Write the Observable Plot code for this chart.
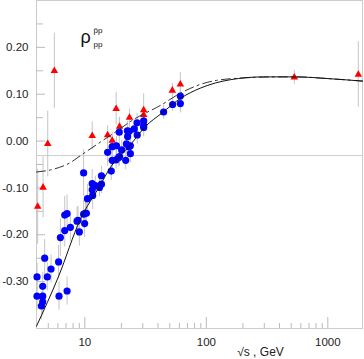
<!DOCTYPE html>
<html>
<head>
<meta charset="utf-8">
<script src="https://cdn.jsdelivr.net/npm/d3@7"></script>
<script src="https://cdn.jsdelivr.net/npm/@observablehq/plot@0.6"></script>
<style>
  html, body { margin: 0; padding: 0; background: #fff; }
  #chart { width: 364px; height: 359px; }
</style>
</head>
<body>
<div id="chart"></div>
<script>
// pp data (blue circles): sqrt(s) GeV, rho, error
const ppX = [4.04, 4.04, 4.39, 4.50, 4.50, 4.50, 4.67, 4.91, 5.27, 6.08, 6.13, 7.14, 6.29, 6.83, 6.83, 7.14, 7.60, 8.63, 8.79, 9.01,
             9.77, 10.1, 10.3, 9.96, 10.5, 11.5, 12.2, 11.5, 11.6, 13.2, 13.7, 13.7, 9.77, 16.5, 15.4, 16.8, 18.2, 16.8, 18.1, 19.0,
             19.3, 19.2, 20.1, 21.7, 22.0, 23.0, 23.7, 22.4, 23.2, 22.5, 25.5, 26.9, 27.0, 23.7, 30.5, 30.5, 30.5, 44.5, 52.8, 61.1, 61.1];
const ppY = [-0.290, -0.331, -0.352, -0.343, -0.331, -0.310, -0.250, -0.290, -0.273, -0.258, -0.331, -0.320, -0.206, -0.191, -0.158, -0.155, -0.184, -0.171, -0.169, -0.194,
             -0.156, -0.154, -0.154, -0.176, -0.123, -0.091, -0.095, -0.104, -0.116, -0.099, -0.092, -0.074, -0.068, -0.064, -0.024, -0.012, -0.010, -0.041, -0.040, -0.035,
             -0.033, 0.019, -0.019, -0.041, -0.006, -0.012, -0.010, 0.022, 0.021, 0.010, 0.026, 0.039, 0.013, -0.027, 0.043, 0.033, 0.029, 0.062, 0.078, 0.096, 0.080];
const ppErr = [0.03, 0.03, 0.03, 0.03, 0.025, 0.03, 0.04, 0.03, 0.03, 0.035, 0.03, 0.03, 0.04, 0.035, 0.04, 0.04, 0.03, 0.03, 0.03, 0.03,
               0.03, 0.03, 0.03, 0.03, 0.03, 0.03, 0.02, 0.02, 0.03, 0.02, 0.02, 0.02, 0.05, 0.02, 0.03, 0.03, 0.02, 0.02, 0.02, 0.02,
               0.02, 0.03, 0.02, 0.02, 0.02, 0.02, 0.02, 0.02, 0.02, 0.02, 0.02, 0.02, 0.02, 0.02, 0.02, 0.02, 0.02, 0.015, 0.015, 0.02, 0.02];

// pbar-p data (red triangles)
const pbarpX = [4.09, 4.53, 4.95, 5.61, 11.5, 15.4, 16.8, 18.1, 19.3, 23.3, 30.5, 30.5, 52.5, 61.1, 530, 1783];
const pbarpY = [-0.140, -0.099, -0.006, 0.150, 0.011, 0.013, 0.001, 0.069, 0.031, 0.050, 0.066, 0.056, 0.108, 0.121, 0.136, 0.142];
const pbarpErr = [0.08, 0.065, 0.07, 0.08, 0.03, 0.02, 0.01, 0.035, 0.02, 0.018, 0.035, 0.012, 0.015, 0.025, 0.015, 0.07];

// fit curves
const fitPpX = [4.0, 6.05, 9.18, 13.4, 15.7, 23.7, 31.5, 43.2, 62, 89.4, 158, 296, 540, 1047, 1930];
const fitPpY = [-0.395, -0.290, -0.167, -0.094, -0.062, -0.008, 0.031, 0.060, 0.092, 0.113, 0.131, 0.137, 0.137, 0.133, 0.128];
const fitPbarpX = [4.0, 5.7, 7.6, 9.2, 12.6, 17.3, 25.2, 41.8, 61, 89.4, 158, 404, 540, 1047, 1930];
const fitPbarpY = [-0.066, -0.059, -0.046, -0.031, -0.007, 0.017, 0.046, 0.076, 0.102, 0.121, 0.133, 0.137, 0.137, 0.133, 0.128];

// reference line, ticks
const refLine = [-0.031];
const xMajorTicks = [10, 100, 1000];
const xMinorTicks = [5, 6, 7, 8, 9, 20, 30, 40, 50, 60, 70, 80, 90, 200, 300, 400, 500, 600, 700, 800, 900];
const yMajorTicks = [-0.30, -0.20, -0.10, 0.00, 0.10, 0.20];
const yMinorTicks = [-0.35, -0.25, -0.15, -0.05, 0.05, 0.15, 0.25];

const pp = ppX.map((x, i) => ({x, y: ppY[i], e: ppErr[i]}));
const pbarp = pbarpX.map((x, i) => ({x, y: pbarpY[i], e: pbarpErr[i]}));
const fitPp = fitPpX.map((x, i) => ({x, y: fitPpY[i]}));
const fitPbarp = fitPbarpX.map((x, i) => ({x, y: fitPbarpY[i]}));

const W = 364, H = 359, mL = 36, mR = 2, mT = 0, mB = 31;
const plotH = H - mT - mB, plotW = W - mL - mR;
const font = "Liberation Sans, Arial, sans-serif";

const chart = Plot.plot({
  width: W, height: H,
  marginLeft: mL, marginRight: mR, marginTop: mT, marginBottom: mB,
  style: {fontFamily: font, background: "#fff"},
  x: {type: "log", domain: [4, 1930]},
  y: {domain: [-0.40, 0.30]},
  marks: [
    Plot.frame({stroke: "#cccccc"}),
    Plot.ruleY(refLine, {stroke: "#cccccc"}),
    Plot.tickX(xMinorTicks, {x: d => d, stroke: "#bbbbbb", insetTop: plotH - 5}),
    Plot.tickX(xMajorTicks, {x: d => d, stroke: "#bbbbbb", insetTop: plotH - 11}),
    Plot.tickY(yMinorTicks, {y: d => d, stroke: "#bbbbbb", insetRight: plotW - 7}),
    Plot.tickY(yMajorTicks, {y: d => d, stroke: "#bbbbbb", insetRight: plotW - 9}),
    Plot.axisX({ticks: xMajorTicks, tickSize: 0, tickPadding: 9, tickFormat: d => String(d), fontSize: 11.5, label: null, fill: "#222"}),
    Plot.axisY({ticks: yMajorTicks, tickSize: 0, tickPadding: 8, tickFormat: d => d.toFixed(2), fontSize: 11.5, label: null, fill: "#222"}),
    Plot.ruleX(pbarp, {x: "x", y1: d => d.y - d.e, y2: d => d.y + d.e, stroke: "#c4c4c4"}),
    Plot.ruleX(pp, {x: "x", y1: d => d.y - d.e, y2: d => d.y + d.e, stroke: "#c4c4c4"}),
    Plot.dot(pbarp, {x: "x", y: "y", symbol: "triangle", r: 2.8, fill: "#ff0000", stroke: "none"}),
    Plot.dot(pp, {x: "x", y: "y", r: 3.6, fill: "#0000ff", stroke: "none"}),
    Plot.line(fitPbarp, {x: "x", y: "y", curve: "monotone-x", stroke: "#333", strokeWidth: 1, strokeDasharray: "9,4,2,4"}),
    Plot.line(fitPp, {x: "x", y: "y", curve: "monotone-x", stroke: "#111", strokeWidth: 1}),
    Plot.text(["\u03C1"], {frameAnchor: "top-left", dx: 49, dy: 37, fontSize: 18, fill: "#111", textAnchor: "middle", lineAnchor: "middle"}),
    Plot.text(["p\u0304p"], {frameAnchor: "top-left", dx: 57, dy: 30, fontSize: 8, fill: "#111", textAnchor: "start", lineAnchor: "middle"}),
    Plot.text(["pp"], {frameAnchor: "top-left", dx: 57, dy: 44, fontSize: 8, fill: "#111", textAnchor: "start", lineAnchor: "middle"}),
    Plot.text(["\u221As , GeV"], {frameAnchor: "bottom", dx: 61, dy: 24, fontSize: 12, fill: "#222", textAnchor: "middle", lineAnchor: "middle"})
  ]
});
document.getElementById("chart").appendChild(chart);
</script>
</body>
</html>
